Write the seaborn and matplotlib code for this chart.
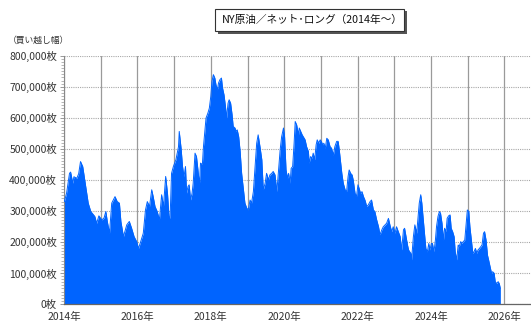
import matplotlib
matplotlib.use("Agg")
import matplotlib.pyplot as plt
from matplotlib.patches import Rectangle
from matplotlib.ticker import MultipleLocator, FuncFormatter
import seaborn as sns
import pandas as pd

# Weekly CFTC net long positions in NY crude oil (contracts), sampled by date (decimal year)
years = [
    2014.01, 2014.07, 2014.15, 2014.18, 2014.24, 2014.27, 2014.35, 2014.40, 2014.45, 2014.51,
    2014.54, 2014.60, 2014.66, 2014.73, 2014.84, 2014.89, 2014.95, 2015.03, 2015.09, 2015.14,
    2015.18, 2015.24, 2015.30, 2015.39, 2015.45, 2015.51, 2015.55, 2015.62, 2015.71, 2015.78,
    2015.84, 2015.91, 2015.98, 2016.03, 2016.09, 2016.16, 2016.22, 2016.27, 2016.33, 2016.39,
    2016.43, 2016.48, 2016.54, 2016.60, 2016.66, 2016.71, 2016.77, 2016.82, 2016.86, 2016.89,
    2016.93, 2016.98, 2017.05, 2017.12, 2017.14, 2017.19, 2017.23, 2017.27, 2017.31, 2017.34,
    2017.38, 2017.41, 2017.45, 2017.49, 2017.52, 2017.57, 2017.61, 2017.65, 2017.69, 2017.72,
    2017.77, 2017.80, 2017.83, 2017.87, 2017.92, 2017.96, 2018.00, 2018.03, 2018.07, 2018.11,
    2018.14, 2018.18, 2018.21, 2018.25, 2018.29, 2018.32, 2018.36, 2018.40, 2018.43, 2018.47,
    2018.50, 2018.54, 2018.58, 2018.61, 2018.66, 2018.69, 2018.72, 2018.76, 2018.80, 2018.84,
    2018.89, 2018.93, 2018.98, 2019.02, 2019.07, 2019.11, 2019.16, 2019.20, 2019.25, 2019.29,
    2019.34, 2019.39, 2019.43, 2019.48, 2019.52, 2019.57, 2019.61, 2019.66, 2019.70, 2019.75,
    2019.80, 2019.84, 2019.89, 2019.93, 2019.98, 2020.01, 2020.05, 2020.09, 2020.12, 2020.16,
    2020.19, 2020.23, 2020.27, 2020.30, 2020.34, 2020.39, 2020.41, 2020.45, 2020.49, 2020.52,
    2020.57, 2020.61, 2020.66, 2020.68, 2020.72, 2020.76, 2020.79, 2020.83, 2020.87, 2020.90,
    2020.94, 2020.98, 2021.01, 2021.05, 2021.08, 2021.12, 2021.16, 2021.20, 2021.25, 2021.29,
    2021.34, 2021.38, 2021.43, 2021.47, 2021.50, 2021.54, 2021.57, 2021.61, 2021.66, 2021.70,
    2021.74, 2021.77, 2021.81, 2021.85, 2021.88, 2021.93, 2021.97, 2022.01, 2022.04, 2022.08,
    2022.12, 2022.16, 2022.20, 2022.25, 2022.29, 2022.34, 2022.38, 2022.43, 2022.47, 2022.52,
    2022.57, 2022.61, 2022.66, 2022.70, 2022.75, 2022.79, 2022.84, 2022.88, 2022.93, 2022.97,
    2023.02, 2023.06, 2023.11, 2023.16, 2023.20, 2023.25, 2023.28, 2023.32, 2023.36, 2023.39,
    2023.45, 2023.47, 2023.52, 2023.56, 2023.61, 2023.65, 2023.68, 2023.72, 2023.75, 2023.79,
    2023.83, 2023.86, 2023.90, 2023.94, 2023.97, 2024.01, 2024.04, 2024.08, 2024.12, 2024.15,
    2024.19, 2024.23, 2024.26, 2024.30, 2024.34, 2024.37, 2024.41, 2024.44, 2024.48, 2024.52,
    2024.55, 2024.59, 2024.63, 2024.66, 2024.70, 2024.74, 2024.77, 2024.81, 2024.84, 2024.88,
    2024.92, 2024.95, 2024.99, 2025.03, 2025.06, 2025.10, 2025.14, 2025.17, 2025.21, 2025.25,
    2025.28, 2025.32, 2025.36, 2025.39, 2025.43, 2025.46, 2025.50, 2025.54, 2025.57, 2025.61,
    2025.65, 2025.68, 2025.72, 2025.75, 2025.79, 2025.83, 2025.86, 2025.89,
]

# Net long, in thousands of contracts
net_long_k = [
    330, 357, 421, 425, 389, 410, 405, 420, 459, 443,
    420, 372, 325, 298, 282, 260, 284, 271, 277, 298,
    266, 228, 325, 346, 330, 325, 266, 217, 255, 266,
    245, 217, 201, 179, 201, 228, 303, 330, 314, 368,
    346, 314, 298, 271, 352, 314, 411, 357, 282, 276,
    421, 443, 465, 507, 556, 502, 443, 410, 443, 357,
    379, 384, 335, 357, 389, 486, 475, 432, 384, 454,
    449, 507, 545, 599, 615, 631, 669, 716, 739, 728,
    707, 690, 712, 723, 728, 696, 674, 636, 599, 647,
    658, 647, 610, 572, 567, 556, 561, 539, 491, 421,
    368, 325, 309, 303, 335, 325, 362, 432, 518, 545,
    507, 465, 368, 389, 421, 400, 416, 421, 427, 416,
    362, 421, 497, 539, 567, 539, 432, 405, 421, 389,
    437, 443, 518, 588, 577, 545, 567, 556, 545, 539,
    529, 507, 491, 454, 475, 470, 486, 465, 513, 529,
    518, 529, 524, 513, 518, 502, 534, 529, 507, 502,
    480, 507, 524, 524, 497, 454, 421, 389, 368, 362,
    410, 432, 421, 416, 400, 357, 346, 384, 373, 357,
    362, 346, 335, 314, 319, 330, 335, 303, 298, 271,
    249, 223, 239, 249, 255, 260, 276, 255, 233, 249,
    228, 249, 233, 217, 174, 239, 244, 217, 190, 174,
    163, 142, 217, 255, 228, 282, 325, 352, 325, 271,
    217, 179, 168, 195, 174, 195, 195, 168, 206, 249,
    282, 298, 292, 260, 206, 244, 233, 276, 284, 287,
    244, 233, 217, 168, 142, 190, 185, 201, 195, 201,
    206, 249, 303, 298, 249, 206, 163, 168, 179, 163,
    174, 179, 185, 190, 228, 233, 206, 157, 142, 120,
    99, 104, 99, 72, 66, 72, 66, 50,
]

year_ticks = list(range(2014, 2027, 2))
title = "NY原油／ネット･ロング（2014年～）"
unit_label = "（買い越し幅）"

df = pd.DataFrame({"year": years, "net_long": [v * 1000 for v in net_long_k]})

sns.set_theme(style="white")
plt.rcParams["font.family"] = ["Noto Sans CJK JP", "DejaVu Sans"]

W, H = 531, 325
fig = plt.figure(figsize=(W / 100, H / 100), dpi=100)
ax = fig.add_axes([64 / W, 1 - 304 / H, 1 - 64 / W, (304 - 55.7) / H])

blue = "#0064FF"
ax.fill_between(df["year"], df["net_long"], 0, color=blue, linewidth=0, zorder=2)
sns.lineplot(data=df, x="year", y="net_long", ax=ax, color=blue, linewidth=0.7, zorder=3)

x_right = 2014 + (W - 64) / 36.7
ax.set_xlim(2014, x_right)
ax.set_ylim(0, 800000)

# Grid: solid yearly verticals, dotted horizontals every 100,000
ax.yaxis.set_major_locator(MultipleLocator(100000))
ax.yaxis.set_minor_locator(MultipleLocator(10000))
ax.grid(axis="x", color="#9a9a9a", linewidth=0.9, zorder=1)
ax.grid(axis="y", color="#a8a8a8", linewidth=0.8, linestyle=(0, (1, 1)), zorder=1)

ax.set_xticks(range(2014, 2027))
ax.set_xticklabels([f"{y}年" if y in year_ticks else "" for y in range(2014, 2027)])
ax.yaxis.set_major_formatter(FuncFormatter(lambda v, p: f"{int(v):,}枚"))
ax.tick_params(axis="x", length=0, labelsize=7.5, pad=6, labelcolor="#333333")
ax.tick_params(axis="y", which="major", length=3, width=0.6, color="#888888",
               labelsize=7.5, pad=2, labelcolor="#333333", left=True)
ax.tick_params(axis="y", which="minor", length=2, width=0.5, color="#999999", left=True)

for side in ("top", "right"):
    ax.spines[side].set_visible(False)
ax.spines["left"].set_color("#888888")
ax.spines["left"].set_linewidth(0.8)
ax.spines["bottom"].set_color("#666666")
ax.spines["bottom"].set_linewidth(0.9)
ax.set_xlabel("")
ax.set_ylabel("")

# Title box with drop shadow
bx0, bx1, by0, by1 = 215, 404, 9, 31
fig.add_artist(Rectangle(((bx0 + 3) / W, 1 - (by1 + 2.5) / H), (bx1 - bx0) / W, (by1 - by0) / H,
                         transform=fig.transFigure, facecolor="#555555", edgecolor="none"))
fig.add_artist(Rectangle((bx0 / W, 1 - by1 / H), (bx1 - bx0) / W, (by1 - by0) / H,
                         transform=fig.transFigure, facecolor="white", edgecolor="#333333",
                         linewidth=0.8))
fig.text(((bx0 + bx1) / 2 + 2.5) / W, 1 - (by0 + by1) / 2 / H, title, ha="center", va="center",
         fontsize=7.7, color="#111111")

fig.text(8 / W, 1 - 40 / H, unit_label, ha="left", va="center", fontsize=6.3, color="#333333")

fig.savefig("out.png", dpi=100, facecolor="white")
